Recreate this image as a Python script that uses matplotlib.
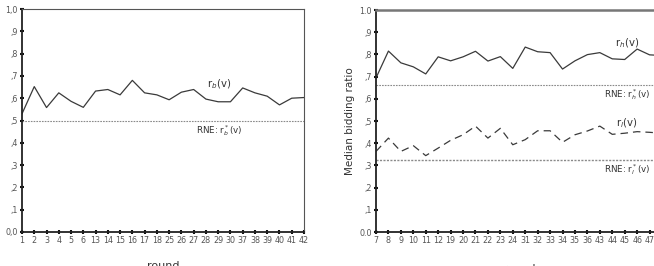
import matplotlib
matplotlib.use("Agg")
import matplotlib.pyplot as plt
import numpy as np

# ---- data ----
rounds_left = ["1", "2", "3", "4", "5", "6", "13", "14", "15", "16", "17", "18",
               "25", "26", "27", "28", "29", "30", "37", "38", "39", "40", "41", "42"]
r_b = [0.530, 0.652, 0.558, 0.624, 0.586, 0.559, 0.632, 0.639, 0.615, 0.680, 0.624, 0.615,
       0.593, 0.627, 0.639, 0.596, 0.584, 0.584, 0.646, 0.624, 0.609, 0.570, 0.600, 0.603]
rne_b = 0.5

rounds_right = ["7", "8", "9", "10", "11", "12", "19", "20", "21", "22", "23", "24",
                "31", "32", "33", "34", "35", "36", "43", "44", "45", "46", "47", "48"]
r_h = [0.694, 0.815, 0.762, 0.744, 0.712, 0.789, 0.771, 0.789, 0.814, 0.770, 0.790, 0.737,
       0.833, 0.812, 0.808, 0.734, 0.771, 0.799, 0.808, 0.780, 0.777, 0.824, 0.798, 0.795]
r_l = [0.363, 0.423, 0.363, 0.389, 0.344, 0.378, 0.413, 0.438, 0.477, 0.423, 0.467, 0.393,
       0.416, 0.456, 0.456, 0.404, 0.438, 0.455, 0.477, 0.440, 0.445, 0.452, 0.449, 0.445]
rne_h = 0.663
rne_l = 0.325

yticks = [0.0, 0.1, 0.2, 0.3, 0.4, 0.5, 0.6, 0.7, 0.8, 0.9, 1.0]
ylabels_left = ["0,0", ",1", ",2", ",3", ",4", ",5", ",6", ",7", ",8", ",9", "1,0"]
ylabels_right = ["0.0", ",1", ",2", ",3", ",4", ",5", ",6", ",7", ",8", ",9", "1.0"]

W, H = 654, 266
fig = plt.figure(figsize=(W / 100, H / 100), dpi=100)
plt.rcParams['font.family'] = ['DejaVu Sans']

line_col = "#3a3a3a"
rne_col = "#8a8a8a"
tick_col = "#555555"


def style(ax, labels, ylabels):
    ax.set_xlim(0, len(labels) - 1)
    ax.set_ylim(0, 1.0)
    ax.set_xticks(range(len(labels)))
    ax.set_xticklabels(labels)
    ax.set_yticks(yticks)
    ax.set_yticklabels(ylabels)
    ax.tick_params(axis='both', direction='inout', length=3, width=1.5,
                   color='#111111', labelsize=5.8, labelcolor=tick_col, pad=1.5)
    ax.spines['left'].set_color('#222222')
    ax.spines['bottom'].set_color('#222222')
    ax.spines['left'].set_linewidth(1.3)
    ax.spines['bottom'].set_linewidth(1.3)


# left panel
ax1 = fig.add_axes([22 / W, 1 - 232 / H, 282 / W, 223 / H])
x1 = np.arange(len(rounds_left))
ax1.plot(x1, r_b, color=line_col, lw=0.9)
ax1.axhline(rne_b, color=rne_col, lw=0.8, ls=(0, (1.5, 1)))
style(ax1, rounds_left, ylabels_left)
for s in ['top', 'right']:
    ax1.spines[s].set_color('#555555')
    ax1.spines[s].set_linewidth(0.8)
ax1.text(16.1, 0.665, r"r$_b$(v)", fontsize=7.3, color='#333333', ha='center', va='center')
ax1.text(16.1, 0.457, r"RNE: r$_b^*$(v)", fontsize=6.3, color='#333333', ha='center', va='center')
fig.text(163 / W, 1 - 261 / H, "round", fontsize=8, color='#333333', ha='center', va='top')

# right panel
ax2 = fig.add_axes([376 / W, 1 - 232 / H, 286 / W, 222 / H])
x2 = np.arange(len(rounds_right))
ax2.plot(x2, r_h, color=line_col, lw=0.9)
ax2.plot(x2, r_l, color=line_col, lw=0.9, ls=(0, (6, 4)))
ax2.axhline(rne_h, color=rne_col, lw=0.8, ls=(0, (1.5, 1)))
ax2.axhline(rne_l, color=rne_col, lw=1.0, ls=(0, (1.5, 1)))
style(ax2, rounds_right, ylabels_right)
ax2.get_xticklabels()[-1].set_visible(False)
ax2.spines['top'].set_color('#777777')
ax2.spines['top'].set_linewidth(1.8)
ax2.spines['right'].set_color('#555555')
ax2.set_ylabel("Median bidding ratio", fontsize=7.5, color='#333333', labelpad=3)
ax2.text(20.2, 0.85, r"r$_h$(v)", fontsize=7.3, color='#333333', ha='center', va='center')
ax2.text(20.2, 0.617, r"RNE: r$_h^*$(v)", fontsize=6.3, color='#333333', ha='center', va='center')
ax2.text(20.2, 0.49, r"r$_l$(v)", fontsize=7.3, color='#333333', ha='center', va='center')
ax2.text(20.2, 0.28, r"RNE: r$_l^*$(v)", fontsize=6.3, color='#333333', ha='center', va='center')
fig.text(519 / W, 1 - 264 / H, "round", fontsize=8, color='#333333', ha='center', va='top')

fig.savefig("out.png", dpi=100)
